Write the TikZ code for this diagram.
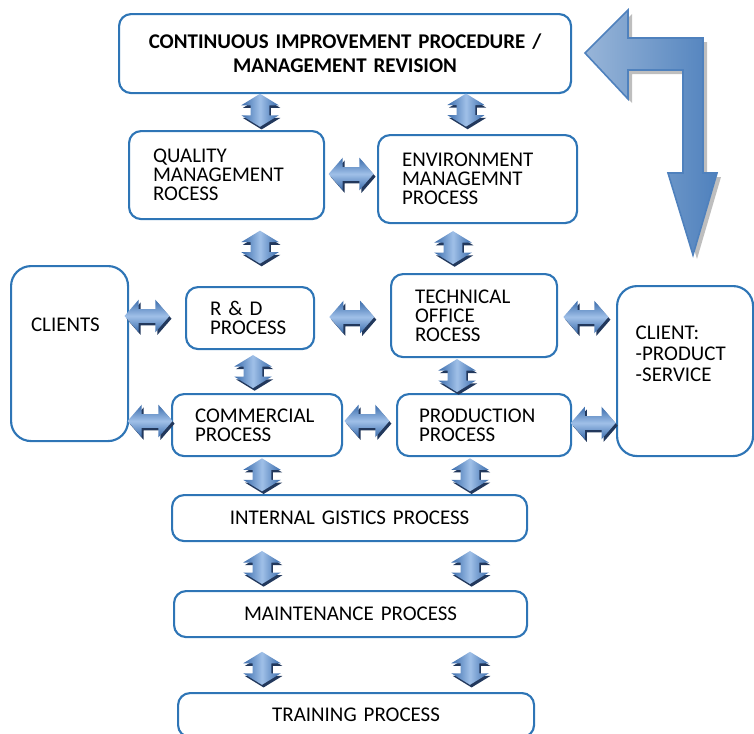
\documentclass[tikz,border=0pt]{standalone}
\usepackage{fontspec}
\setmainfont{Carlito}
\usetikzlibrary{calc,positioning,shapes.arrows,shadows}

\definecolor{boxblue}{RGB}{46,117,182}
\definecolor{arrdark}{RGB}{58,108,172}
\definecolor{arrlight}{RGB}{160,192,232}
\definecolor{arrshade}{RGB}{34,56,92}
\definecolor{bigdark}{RGB}{79,129,189}
\definecolor{biglight}{RGB}{152,181,216}
\definecolor{bigshade}{RGB}{190,190,190}

\tikzset{
  procbox/.style={rectangle,draw=boxblue,line width=1.6pt,rounded corners=9pt,anchor=north west,
    align=left,inner xsep=18pt,inner ysep=0pt,font=\fontsize{15.7}{14.2}\selectfont},
  vlink/.style={double arrow,shape border rotate=90,draw=none,inner sep=6.75pt,
    minimum height=24.75pt,minimum width=27pt,double arrow tip angle=117,
    left color=arrdark,right color=arrdark,middle color=arrlight,
    drop shadow={shadow xshift=1.2pt,shadow yshift=-2pt,fill=arrshade,opacity=1}},
  hlink/.style={double arrow,draw=none,inner sep=4.9pt,
    minimum height=33.75pt,minimum width=22.5pt,double arrow tip angle=98,
    top color=arrdark,bottom color=arrdark,middle color=arrlight,
    drop shadow={shadow xshift=1.5pt,shadow yshift=-2pt,fill=arrshade,opacity=1}},
}

\begin{document}
\begin{tikzpicture}[x=0.75pt,y=-0.75pt]

  \useasboundingbox (0,0) rectangle (754,733);

  % process boxes
  \node (cip) [procbox,align=center,text width=303pt,minimum width=339pt,minimum height=59.25pt,
    font=\fontsize{15.7}{18}\selectfont\bfseries] at (118,13) {CONTINUOUS IMPROVEMENT PROCEDURE /\\MANAGEMENT REVISION};
  \node (qual) [procbox,text width=110.25pt,minimum width=146.25pt,minimum height=66pt] at (128,130) {QUALITY\\MANAGEMENT\\ROCESS};
  \node (env) [procbox,text width=113.25pt,minimum width=149.25pt,minimum height=66pt] at (377,134) {ENVIRONMENT\\MANAGEMNT\\PROCESS};
  \node (clients) [procbox,rounded corners=15pt,inner xsep=15pt,text width=57.75pt,minimum width=87.75pt,minimum height=131.25pt,
    text depth=43pt] at (10,265) {CLIENTS};
  \node (rd) [procbox,text width=60pt,minimum width=96pt,minimum height=46.5pt] at (185,286) {R \& D\\PROCESS};
  \node (tech) [procbox,text width=88.5pt,minimum width=124.5pt,minimum height=62.25pt] at (390,273) {TECHNICAL\\OFFICE\\ROCESS};
  \node (client) [procbox,rounded corners=15pt,inner xsep=14pt,text width=74pt,minimum width=102pt,minimum height=127.5pt,
    font=\fontsize{15.7}{15.75}\selectfont,text depth=58pt] at (616,285) {CLIENT:\\-PRODUCT\\-SERVICE};
  \node (comm) [procbox,inner xsep=17.25pt,text width=93pt,minimum width=127.5pt,minimum height=46.5pt] at (171,393) {COMMERCIAL\\PROCESS};
  \node (prod) [procbox,inner xsep=16.5pt,text width=97.5pt,minimum width=130.5pt,minimum height=46.5pt] at (396,393) {PRODUCTION\\PROCESS};
  \node (intl) [procbox,align=center,text width=230.25pt,minimum width=266.25pt,minimum height=34.5pt] at (171,494) {INTERNAL GISTICS PROCESS};
  \node (maint) [procbox,align=center,text width=228.75pt,minimum width=264.75pt,minimum height=34.5pt] at (173,590) {MAINTENANCE PROCESS};
  \node (train) [procbox,align=center,text width=231pt,minimum width=267pt,minimum height=33pt] at (177,692) {TRAINING PROCESS};

  % vertical links
  \node (lk_cq) [vlink] at ($(cip.south -| 260,0)!.45!(qual.north -| 260,0)$) {};
  \node (lk_ce) [vlink] at ($(cip.south -| 466,0)!.4!(env.north -| 466,0)$) {};
  \node (lk_qr) [vlink] at ($(qual.south -| 260,0)!.41!(rd.north -| 260,0)$) {};
  \node (lk_et) [vlink] at ($(env.south -| 453,0)!.48!(tech.north -| 453,0)$) {};
  \node (lk_rc) [vlink] at ($(rd.south -| 253,0)!.5!(comm.north -| 253,0)$) {};
  \node (lk_tp) [vlink] at ($(tech.south -| 457,0)!.5!(prod.north -| 457,0)$) {};
  \node (lk_ci) [vlink] at ($(comm.south -| 262,0)!.48!(intl.north -| 262,0)$) {};
  \node (lk_pi) [vlink] at ($(prod.south -| 470,0)!.48!(intl.north -| 470,0)$) {};
  \foreach \a/\b/\f in {intl/maint/.53,maint/train/.56}
   {
     \node (lk_\a_l) [vlink] at ($(\a.south -| 262,0)!\f!(\b.north -| 262,0)$) {};
     \node (lk_\a_r) [vlink] at ($(\a.south -| 470,0)!\f!(\b.north -| 470,0)$) {};
   }

  % horizontal links
  \node (lk_qe) [hlink] at ($(qual.east |- 0,174)!.5!(env.west |- 0,174)$) {};
  \node (lk_kr) [hlink] at ($(clients.east |- 0,316)!.32!(rd.west |- 0,316)$) {};
  \node (lk_rt) [hlink] at ($(rd.east |- 0,317)!.49!(tech.west |- 0,317)$) {};
  \node (lk_tk) [hlink] at ($(tech.east |- 0,317)!.48!(client.west |- 0,317)$) {};
  \node (lk_kc) [hlink] at ($(clients.east |- 0,421)!.5!(comm.west |- 0,421)$) {};
  \node (lk_cp) [hlink] at ($(comm.east |- 0,421)!.45!(prod.west |- 0,421)$) {};
  \node (lk_pk) [hlink] at ($(prod.east |- 0,423)!.48!(client.west |- 0,423)$) {};

  % feedback arrow
  \def\backpath{(585,53) -- (628,10) -- (628,38) -- (703,38) -- (703,173) -- (717,173) -- (693,255)
    -- (668,173) -- (683,173) -- (683,70) -- (628,70) -- (628,99) -- cycle}
  \fill[bigshade,shift={(4,4)}] \backpath;
  \path[left color=biglight,right color=bigdark,draw=bigdark,line width=1.2pt,line join=miter] \backpath;

\end{tikzpicture}
\end{document}
